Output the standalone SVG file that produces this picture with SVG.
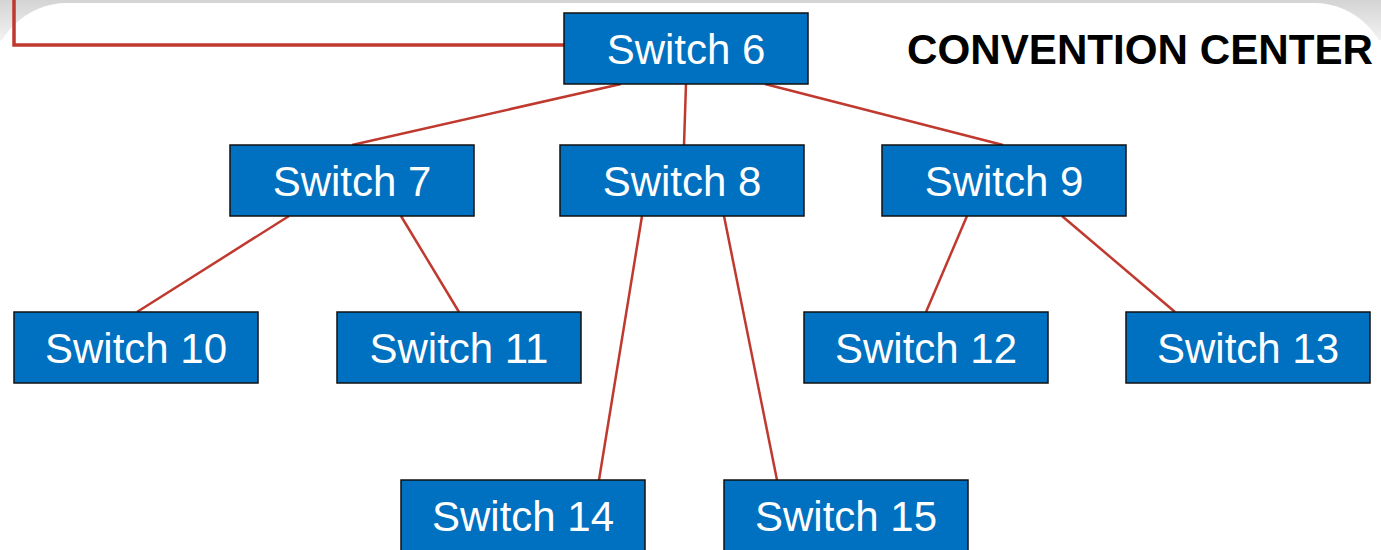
<svg xmlns="http://www.w3.org/2000/svg" width="1381" height="550" viewBox="0 0 1381 550">
  <defs>
    <linearGradient id="bg" x1="0" y1="0" x2="0" y2="1">
      <stop offset="0" stop-color="#d4d4d4"/>
      <stop offset="1" stop-color="#f2f2f2"/>
    </linearGradient>
    <style>
      .box { fill: #0070C0; stroke: #111111; stroke-width: 1.5; }
      .lbl { font-family: "Liberation Sans", Arial, sans-serif; font-size: 42px; fill: #ffffff; text-anchor: middle; }
      .link { stroke: #C0392F; stroke-width: 2.5; fill: none; }
      .trunk { stroke-width: 3.5; }
      .title { font-family: "Liberation Sans", Arial, sans-serif; font-size: 42px; font-weight: bold; fill: #000000; }
    </style>
  </defs>
  <rect x="0" y="0" width="1381" height="40" fill="url(#bg)"/>
  <rect x="-8" y="3" width="1397" height="620" rx="75" ry="75" fill="#ffffff"/>

  <g id="connectors">
    <polyline class="link trunk" points="14,0 14,45 564,45"/>
    <line class="link" x1="621" y1="84" x2="352" y2="145"/>
    <line class="link" x1="686" y1="84" x2="684" y2="145"/>
    <line class="link" x1="765" y1="84" x2="1003" y2="145"/>
    <line class="link" x1="289" y1="216" x2="137" y2="312"/>
    <line class="link" x1="401" y1="216" x2="459" y2="312"/>
    <line class="link" x1="642" y1="216" x2="599" y2="480"/>
    <line class="link" x1="724" y1="216" x2="777" y2="480"/>
    <line class="link" x1="967" y1="216" x2="926" y2="312"/>
    <line class="link" x1="1062" y1="216" x2="1175" y2="312"/>
  </g>

  <g id="switch6"><rect class="box" x="564" y="13" width="244" height="71"/><text class="lbl" x="686" y="64">Switch 6</text></g>
  <g id="switch7"><rect class="box" x="230" y="145" width="244" height="71"/><text class="lbl" x="352" y="196">Switch 7</text></g>
  <g id="switch8"><rect class="box" x="560" y="145" width="244" height="71"/><text class="lbl" x="682" y="196">Switch 8</text></g>
  <g id="switch9"><rect class="box" x="882" y="145" width="244" height="71"/><text class="lbl" x="1004" y="196">Switch 9</text></g>
  <g id="switch10"><rect class="box" x="14" y="312" width="244" height="71"/><text class="lbl" x="136" y="363">Switch 10</text></g>
  <g id="switch11"><rect class="box" x="337" y="312" width="244" height="71"/><text class="lbl" x="459" y="363">Switch 11</text></g>
  <g id="switch12"><rect class="box" x="804" y="312" width="244" height="71"/><text class="lbl" x="926" y="363">Switch 12</text></g>
  <g id="switch13"><rect class="box" x="1126" y="312" width="244" height="71"/><text class="lbl" x="1248" y="363">Switch 13</text></g>
  <g id="switch14"><rect class="box" x="401" y="480" width="244" height="71"/><text class="lbl" x="523" y="531">Switch 14</text></g>
  <g id="switch15"><rect class="box" x="724" y="480" width="244" height="71"/><text class="lbl" x="846" y="531">Switch 15</text></g>

  <text id="title" class="title" x="907" y="64" textLength="466" lengthAdjust="spacingAndGlyphs">CONVENTION CENTER</text>
</svg>
